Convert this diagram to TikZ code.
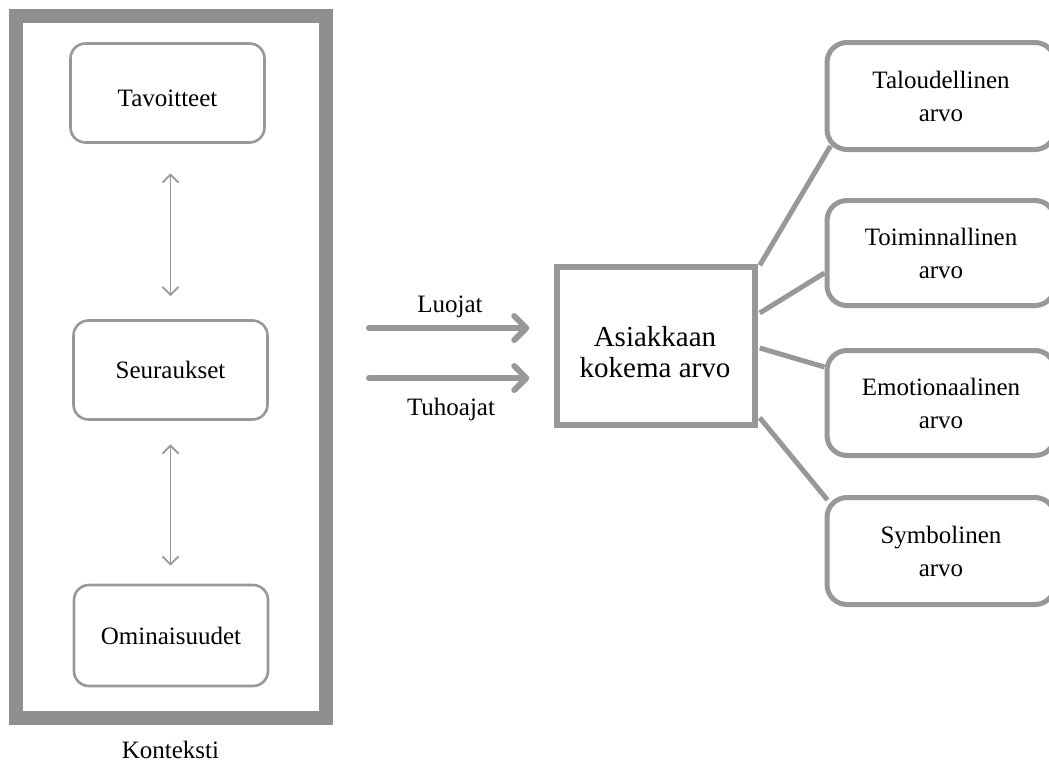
\documentclass[tikz,border=0pt]{standalone}
\usepackage{fontspec}
\setmainfont{Liberation Serif}
\usetikzlibrary{arrows.meta,calc}
\definecolor{framegray}{RGB}{143,143,143}
\definecolor{linegray}{RGB}{152,152,152}
\tikzset{
  txt/.style={font=\fontsize{25}{33}\selectfont, align=center, inner sep=0pt},
  leftbox/.style={draw=linegray, line width=2.6pt, rounded corners=15pt,
    minimum width=194pt, minimum height=99pt, txt},
  valbox/.style={draw=linegray, line width=5pt, rounded corners=20pt,
    minimum width=228pt, minimum height=106pt, anchor=west, txt},
  centerbox/.style={draw=linegray, line width=5.5pt, minimum width=198pt,
    minimum height=158pt},
  bigtxt/.style={align=center, inner sep=0pt, font=\fontsize{29}{31}\selectfont},
  biarr/.style={draw=linegray, line width=1.8pt,
    {Straight Barb[length=8pt,width=16pt]}-{Straight Barb[length=8pt,width=16pt]}},
  bigarr/.style={draw=linegray, line width=6pt, line cap=round,
    -{Straight Barb[round,length=12pt,width=24pt]}},
  spoke/.style={draw=linegray, line width=5pt}
}
\begin{document}
\begin{tikzpicture}[x=1pt,y=-1pt]
\useasboundingbox (0,0) rectangle (1049,763);
\clip (0,0) rectangle (1049,763);
% context frame
\node[draw=framegray, line width=14pt, minimum width=310pt, minimum height=701.5pt, inner sep=0pt] (frame) at (171,366.75) {};
\node[txt, anchor=base] (kon) at (170.5,758) {Konteksti};
% left boxes
\node[leftbox, text height=27pt, text depth=0pt] (tav) at (167.5,93) {Tavoitteet};
\node[leftbox] (seu) at (170.5,370) {Seuraukset};
\node[leftbox, minimum height=101pt] (omi) at (171,635.5) {Ominaisuudet};
\draw[biarr, shorten <=23pt, shorten >=29.5pt] (seu.north) -- (seu.north |- tav.south);
\draw[biarr, shorten <=23.5pt, shorten >=18pt] (seu.south) -- (seu.south |- omi.north);
% center box
\node[centerbox] (cb) at (656,346) {};
\node[bigtxt] (cbtxt) at (655,352.5) {Asiakkaan\\kokema arvo};
\coordinate (ls) at (369,328);
\coordinate (ts) at (369,378);
\draw[bigarr, shorten >=25pt] (ls) -- (ls -| cb.west);
\draw[bigarr, shorten >=25pt] (ts) -- (ts -| cb.west);
\node[txt, anchor=base] (luo) at (450,312) {Luojat};
\node[txt, anchor=base] (tuh) at (451,415) {Tuhoajat};
% value boxes
\node[valbox, minimum height=107pt] (tal) at (824.5,96) {Taloudellinen\\arvo};
\node[valbox, minimum height=105pt] (toi) at (824.5,253) {Toiminnallinen\\arvo};
\node[valbox, minimum height=105pt] (emo) at (824.5,403) {Emotionaalinen\\arvo};
\node[valbox, minimum height=107pt] (sym) at (824.5,551) {Symbolinen\\arvo};
% spokes
\draw[spoke] ($(cb.north east)+(2,1)$) -- ($(tal.south west)+(6,-6)$);
\draw[spoke] ($(cb.east)+(2,-33)$) -- ($(toi.west)+(0,20)$);
\draw[spoke] ($(cb.east)+(2,2)$) -- ($(emo.west)+(0,-36)$);
\draw[spoke] ($(cb.south east)+(2,-10)$) -- ($(sym.north west)+(3,5)$);
\end{tikzpicture}
\end{document}
